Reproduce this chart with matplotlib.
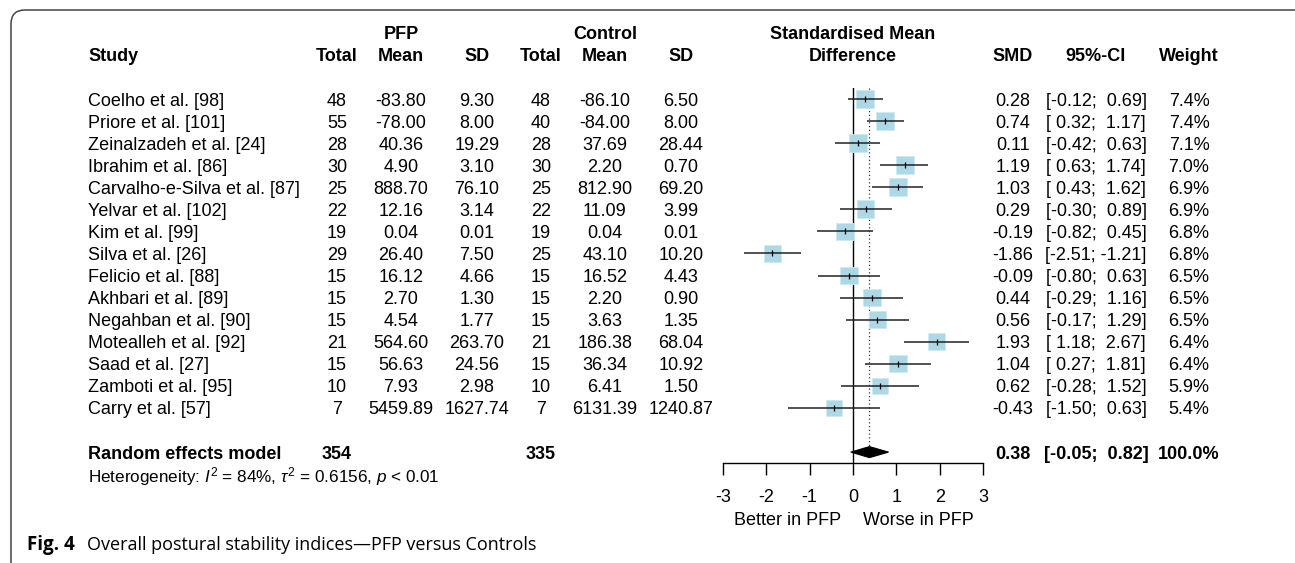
import numpy as np
import matplotlib
matplotlib.use("Agg")
import matplotlib.pyplot as plt
from matplotlib.patches import FancyBboxPatch, Polygon
from matplotlib.transforms import blended_transform_factory, IdentityTransform, ScaledTranslation

plt.rcParams['font.family'] = ['Liberation Sans', 'DejaVu Sans']
plt.rcParams['mathtext.fontset'] = 'custom'
plt.rcParams['mathtext.rm'] = 'Liberation Sans'
plt.rcParams['mathtext.it'] = 'Liberation Sans:italic'

# ---- data ----
studies = ['Coelho et al. [98]', 'Priore et al. [101]', 'Zeinalzadeh et al. [24]',
           'Ibrahim et al. [86]', 'Carvalho-e-Silva et al. [87]', 'Yelvar et al. [102]',
           'Kim et al. [99]', 'Silva et al. [26]', 'Felicio et al. [88]',
           'Akhbari et al. [89]', 'Negahban et al. [90]', 'Motealleh et al. [92]',
           'Saad et al. [27]', 'Zamboti et al. [95]', 'Carry et al. [57]']
n_pfp = [48, 55, 28, 30, 25, 22, 19, 29, 15, 15, 15, 21, 15, 10, 7]
mean_pfp = [-83.80, -78.00, 40.36, 4.90, 888.70, 12.16, 0.04, 26.40, 16.12, 2.70,
            4.54, 564.60, 56.63, 7.93, 5459.89]
sd_pfp = [9.30, 8.00, 19.29, 3.10, 76.10, 3.14, 0.01, 7.50, 4.66, 1.30,
          1.77, 263.70, 24.56, 2.98, 1627.74]
n_ctl = [48, 40, 28, 30, 25, 22, 19, 25, 15, 15, 15, 21, 15, 10, 7]
mean_ctl = [-86.10, -84.00, 37.69, 2.20, 812.90, 11.09, 0.04, 43.10, 16.52, 2.20,
            3.63, 186.38, 36.34, 6.41, 6131.39]
sd_ctl = [6.50, 8.00, 28.44, 0.70, 69.20, 3.99, 0.01, 10.20, 4.43, 0.90,
          1.35, 68.04, 10.92, 1.50, 1240.87]
smd = [0.28, 0.74, 0.11, 1.19, 1.03, 0.29, -0.19, -1.86, -0.09, 0.44, 0.56, 1.93, 1.04, 0.62, -0.43]
ci_lo = [-0.12, 0.32, -0.42, 0.63, 0.43, -0.30, -0.82, -2.51, -0.80, -0.29, -0.17, 1.18, 0.27, -0.28, -1.50]
ci_hi = [0.69, 1.17, 0.63, 1.74, 1.62, 0.89, 0.45, -1.21, 0.63, 1.16, 1.29, 2.67, 1.81, 1.52, 0.63]
weight = [7.4, 7.4, 7.1, 7.0, 6.9, 6.9, 6.8, 6.8, 6.5, 6.5, 6.5, 6.4, 6.4, 5.9, 5.4]

pooled_smd, pooled_lo, pooled_hi = 0.38, -0.05, 0.82
total_pfp, total_ctl = 354, 335
het_text = r'Heterogeneity: $\mathit{I}^2$ = 84%, $\tau^2$ = 0.6156, $\mathit{p}$ < 0.01'
xticks = [-3, -2, -1, 0, 1, 2, 3]

W, H = 1295, 563
fig = plt.figure(figsize=(W / 100, H / 100), dpi=100)

# background axes in pixel units for frame + caption
bg = fig.add_axes([0, 0, 1, 1], zorder=0)
bg.set_xlim(0, W)
bg.set_ylim(H, 0)
bg.axis('off')
bg.add_patch(FancyBboxPatch((11, 10), 1310, 600, boxstyle='round,pad=0,rounding_size=14',
                            fc='none', ec='#444444', lw=1.1, clip_on=True))
bg.text(27, 545, 'Fig. 4', fontsize=13.5, fontweight='bold', family='Open Sans', va='center')
bg.text(87, 545, 'Overall postural stability indices\u2014PFP versus Controls',
        fontsize=13, family='Open Sans', va='center')

# forest panel: rows are 22.07 px apart, first row at 99 px
row_px = 22.07
top_px, bot_px = 99 - row_px / 2, 99 + 16.5 * row_px
ax = fig.add_axes([723 / W, 1 - bot_px / H, 260 / W, (bot_px - top_px) / H], zorder=1)
ax.set_xlim(-3, 3)
ax.set_ylim(16.5, -0.5)
ax.patch.set_alpha(0)
for s in ['top', 'right', 'left']:
    ax.spines[s].set_visible(False)
ax.spines['bottom'].set_linewidth(1.0)
ax.set_yticks([])
ax.set_xticks(xticks)
ax.set_xticklabels([str(t) for t in xticks])
ax.tick_params(axis='x', length=8.6, width=1.0, pad=10, labelsize=13)

rows = np.arange(len(studies))
ax.axvline(0, color='black', lw=1.0)
h = 0.25
ax.plot([pooled_smd, pooled_smd], [-0.5, 16 - h], ls=(0, (1, 2)), color='#333333', lw=0.9)

side_px = 6.8 * np.sqrt(weight)
ax.scatter(smd, rows, marker='s', s=(side_px * 0.72) ** 2, c='#ADD8E6',
           edgecolors='#cfe9f1', linewidths=0.6, zorder=2)
ax.hlines(rows, ci_lo, ci_hi, color='#222222', lw=1.1, zorder=3)
ax.scatter(smd, rows, marker='|', s=22, c='black', linewidths=0.9, zorder=4)
ax.add_patch(Polygon([(pooled_lo, 16), (pooled_smd, 16 - h), (pooled_hi, 16), (pooled_smd, 16 + h)],
                     closed=True, fc='black', ec='black', lw=0.8, zorder=4))

ax.text(-1.5, 19.1, 'Better in PFP', ha='center', va='center', fontsize=13)
ax.text(1.5, 19.1, 'Worse in PFP', ha='center', va='center', fontsize=13)

# text columns: x in pixels, y in row units, baseline shifted to centre caps
row_tf = blended_transform_factory(IdentityTransform(), ax.transData) + \
    ScaledTranslation(0, -0.065, fig.dpi_scale_trans)
fs = 13


def put(x, r, s, ha='center', bold=False, size=fs):
    fig.text(x, r, s, transform=row_tf, ha=ha, va='baseline', fontsize=size,
             fontweight='bold' if bold else 'normal')


cols = {'t1': 337, 'm1': 401, 's1': 477, 't2': 541, 'm2': 605, 's2': 681,
        'smd': 1013, 'ci': 1096, 'w': 1189}

# headers
put(88, -2, 'Study', ha='left', bold=True)
put(cols['m1'], -3, 'PFP', bold=True)
put(cols['m2'], -3, 'Control', bold=True)
for k in ['t1', 't2']:
    put(cols[k], -2, 'Total', bold=True)
for k in ['m1', 'm2']:
    put(cols[k], -2, 'Mean', bold=True)
for k in ['s1', 's2']:
    put(cols[k], -2, 'SD', bold=True)
put(853, -3, 'Standardised Mean', bold=True)
put(853, -2, 'Difference', bold=True)
put(cols['smd'], -2, 'SMD', bold=True)
put(cols['ci'], -2, '95%-CI', bold=True)
put(cols['w'], -2, 'Weight', bold=True)

for i in range(len(studies)):
    put(88, i, studies[i], ha='left')
    put(cols['t1'], i, str(n_pfp[i]))
    put(cols['m1'], i, f'{mean_pfp[i]:.2f}')
    put(cols['s1'], i, f'{sd_pfp[i]:.2f}')
    put(cols['t2'], i, str(n_ctl[i]))
    put(cols['m2'], i, f'{mean_ctl[i]:.2f}')
    put(cols['s2'], i, f'{sd_ctl[i]:.2f}')
    put(cols['smd'], i, f'{smd[i]:.2f}')
    put(cols['ci'], i, f'[{ci_lo[i]:5.2f}; {ci_hi[i]:5.2f}]')
    put(cols['w'], i, f'{weight[i]:.1f}%')

put(88, 16, 'Random effects model', ha='left', bold=True)
put(cols['t1'], 16, str(total_pfp), bold=True)
put(cols['t2'], 16, str(total_ctl), bold=True)
put(cols['smd'], 16, f'{pooled_smd:.2f}', bold=True)
put(cols['ci'], 16, f'[{pooled_lo:5.2f}; {pooled_hi:5.2f}]', bold=True)
put(cols['w'], 16, '100.0%', bold=True)
put(88, 17.1, het_text, ha='left', size=12.3)

fig.savefig('out.png', dpi=100)
